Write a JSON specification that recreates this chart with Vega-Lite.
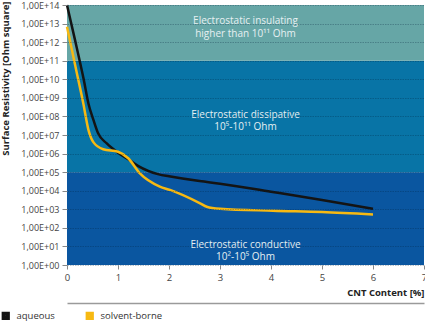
{
  "$schema": "https://vega.github.io/schema/vega-lite/v6.json",
  "width": 357,
  "height": 260,
  "autosize": {"type": "none"},
  "padding": {"left": 67, "top": 5, "right": 1, "bottom": 56},
  "background": "white",
  "config": {
    "view": {"stroke": null},
    "font": "Open Sans"
  },
  "datasets": {
    "bands": [
      {"zone": "conductive", "lo": 1, "hi": 100000},
      {"zone": "dissipative", "lo": 100000, "hi": 100000000000},
      {"zone": "insulating", "lo": 100000000000, "hi": 100000000000000}
    ],
    "labels": [
      {"x": 3.5, "y": 13000000000000, "text": "Electrostatic insulating\nhigher than 10¹¹ Ohm"},
      {"x": 3.5, "y": 120000000, "text": "Electrostatic dissipative\n10⁵-10¹¹ Ohm"},
      {"x": 3.5, "y": 12, "text": "Electrostatic conductive\n10²-10⁵ Ohm"}
    ],
    "curves": [
      {"series": "aqueous", "cnt": 0, "r": 100000000000000},
      {"series": "aqueous", "cnt": 0.15, "r": 1600000000000},
      {"series": "aqueous", "cnt": 0.33, "r": 9100000000},
      {"series": "aqueous", "cnt": 0.42, "r": 500000000},
      {"series": "aqueous", "cnt": 0.52, "r": 63000000},
      {"series": "aqueous", "cnt": 0.61, "r": 12300000},
      {"series": "aqueous", "cnt": 0.78, "r": 3500000},
      {"series": "aqueous", "cnt": 1.0, "r": 1120000},
      {"series": "aqueous", "cnt": 1.2, "r": 500000},
      {"series": "aqueous", "cnt": 1.4, "r": 210000},
      {"series": "aqueous", "cnt": 1.8, "r": 76000},
      {"series": "aqueous", "cnt": 2.0, "r": 60000},
      {"series": "aqueous", "cnt": 2.6, "r": 33000},
      {"series": "aqueous", "cnt": 3.0, "r": 24000},
      {"series": "aqueous", "cnt": 4.0, "r": 8900},
      {"series": "aqueous", "cnt": 5.0, "r": 3200},
      {"series": "aqueous", "cnt": 6.0, "r": 1050},
      {"series": "solvent-borne", "cnt": 0, "r": 6800000000000},
      {"series": "solvent-borne", "cnt": 0.18, "r": 32000000000},
      {"series": "solvent-borne", "cnt": 0.32, "r": 500000000},
      {"series": "solvent-borne", "cnt": 0.42, "r": 19000000},
      {"series": "solvent-borne", "cnt": 0.52, "r": 4000000},
      {"series": "solvent-borne", "cnt": 0.71, "r": 1700000},
      {"series": "solvent-borne", "cnt": 1.0, "r": 1260000},
      {"series": "solvent-borne", "cnt": 1.2, "r": 560000},
      {"series": "solvent-borne", "cnt": 1.43, "r": 85000},
      {"series": "solvent-borne", "cnt": 1.82, "r": 16600},
      {"series": "solvent-borne", "cnt": 2.02, "r": 11000},
      {"series": "solvent-borne", "cnt": 2.61, "r": 2100},
      {"series": "solvent-borne", "cnt": 2.74, "r": 1380},
      {"series": "solvent-borne", "cnt": 3.0, "r": 1070},
      {"series": "solvent-borne", "cnt": 4.04, "r": 832},
      {"series": "solvent-borne", "cnt": 5.0, "r": 708},
      {"series": "solvent-borne", "cnt": 6.0, "r": 525}
    ]
  },
  "resolve": {"axis": {"x": "independent"}},
  "encoding": {
    "y": {
      "type": "quantitative",
      "scale": {"type": "log", "domain": [1, 100000000000000], "nice": false},
      "axis": {
        "title": "Surface Resistivity [Ohm square]",
        "values": [1, 10, 100, 1000, 10000, 100000, 1000000, 10000000, 100000000, 1000000000, 10000000000, 100000000000, 1000000000000, 10000000000000, 100000000000000],
        "labelExpr": "'1,00E+' + (round(log(datum.value)/LN10) < 10 ? '0' : '') + round(log(datum.value)/LN10)",
        "domain": false, "tickSize": 5, "tickColor": "#888", "labelPadding": 3,
        "labelFontSize": 9, "labelColor": "#444",
        "grid": true, "gridColor": "#00223A", "gridOpacity": 0.35, "gridDash": [1.5, 1], "gridWidth": 0.8,
        "zindex": 1,
        "titleFontSize": 9.5, "titleFontWeight": "bold", "titleColor": "#222",
        "titleAnchor": "end", "titleAlign": "right", "titleX": -62, "titleY": -4, "titleAngle": -90, "titleBaseline": "middle"
      }
    }
  },
  "layer": [
    {
      "data": {"name": "bands"},
      "mark": {"type": "rect"},
      "encoding": {
        "y": {"field": "lo"},
        "y2": {"field": "hi"},
        "fill": {"field": "zone", "type": "nominal", "scale": {"domain": ["conductive", "dissipative", "insulating"], "range": ["#0A56A0", "#0874A6", "#66A6A6"]}, "legend": null}
      }
    },
    {
      "data": {"name": "labels"},
      "mark": {"type": "text", "lineBreak": "\n", "lineHeight": 12.5, "fontSize": 10, "color": "#E6F0F2", "align": "center", "baseline": "middle"},
      "encoding": {
        "x": {
          "field": "x", "type": "quantitative",
          "scale": {"domain": [0, 7], "nice": false},
          "axis": {
            "orient": "bottom", "offset": 38, "title": null, "labels": false, "ticks": false, "grid": false,
            "domain": true, "domainColor": "#9A9A9A", "domainWidth": 1.5
          }
        },
        "y": {"field": "y"},
        "text": {"field": "text"}
      }
    },
    {
      "data": {"name": "curves"},
      "mark": {"type": "line", "interpolate": "monotone", "strokeWidth": 2.5},
      "encoding": {
        "x": {
          "field": "cnt", "type": "quantitative",
          "scale": {"domain": [0, 7], "nice": false},
          "axis": {
            "orient": "bottom",
            "title": "CNT Content [%]", "values": [0, 1, 2, 3, 4, 5, 6, 7], "format": "d",
            "domain": false, "grid": false, "tickSize": 4, "tickColor": "#888", "labelPadding": 3,
            "labelFontSize": 9.5, "labelColor": "#444", "labelFlush": false,
            "titleFontSize": 9.5, "titleFontWeight": "bold", "titleColor": "#222",
            "titleAnchor": "end", "titleAlign": "right", "titleX": 357, "titleY": 27, "titleBaseline": "middle"
          }
        },
        "y": {"field": "r"},
        "color": {
          "field": "series", "type": "nominal",
          "scale": {"domain": ["aqueous", "solvent-borne"], "range": ["#141414", "#F7B912"]},
          "legend": {
            "title": null, "orient": "none", "legendX": -66, "legendY": 306, "direction": "horizontal",
            "symbolType": "square", "symbolSize": 18, "symbolStrokeWidth": 4, "symbolOpacity": 1,
            "labelFontSize": 9.5, "labelColor": "#333", "labelOffset": 6, "columnPadding": 24
          }
        }
      }
    }
  ]
}
